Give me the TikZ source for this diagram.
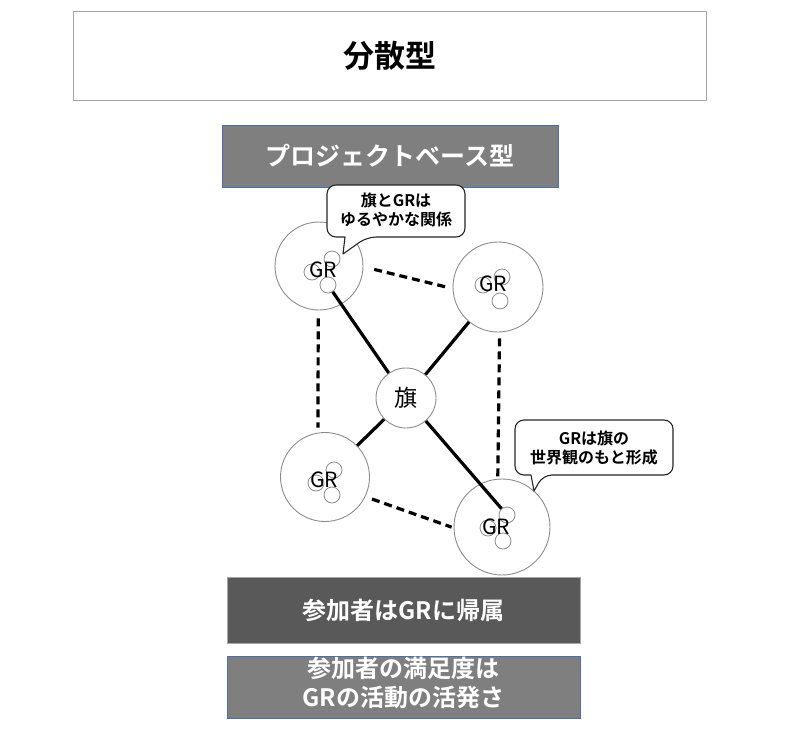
\documentclass[tikz,border=0pt]{standalone}
\usepackage{fontspec}
\setmainfont{Noto Sans CJK JP}[BoldFont={Noto Sans CJK JP Bold}]
\definecolor{ringgray}{HTML}{8C8C8C}
\definecolor{midgray}{HTML}{7F7F7F}
\definecolor{darkgray2}{HTML}{595959}
\definecolor{edgeblue}{HTML}{4A6FB0}
\definecolor{lightedge}{HTML}{A6A6A6}
\begin{document}
\begin{tikzpicture}[x=1pt,y=-1pt,
  bigc/.style={circle, draw=ringgray, line width=0.9pt, fill=white, inner sep=0pt},
  smallc/.style={circle, draw=ringgray, line width=0.8pt, fill=white, inner sep=0pt, minimum size=16pt},
  grtext/.style={font=\fontsize{21}{24}\selectfont, inner sep=0pt},
  dline/.style={line width=3.2pt, dash pattern=on 8pt off 5pt},
  sline/.style={line width=3.2pt},
  callout/.style={draw=black!85, line width=1.1pt, fill=white, line join=round},
  ctext/.style={font=\fontsize{16}{18.5}\selectfont\bfseries, align=center, inner sep=0pt},
]
\useasboundingbox (0,0) rectangle (800,731);

% title
\node[draw=lightedge, line width=0.8pt, minimum width=633pt, minimum height=89pt,
      font=\fontsize{31}{36}\selectfont\bfseries] (title) at (389.5,55.5) {分散型};

% project banner
\node[fill=midgray, draw=edgeblue, line width=0.8pt, minimum width=336pt, minimum height=62pt,
      text=white, font=\fontsize{25}{30}\selectfont\bfseries] (proj) at (390,156) {プロジェクトベース型};

% big circles
\node[bigc, minimum size=88pt] (c1) at (319,266) {};
\node[bigc, minimum size=90pt] (c2) at (498,287) {};
\node[bigc, minimum size=89pt] (c3) at (325,477) {};
\node[bigc, minimum size=96pt] (c4) at (502,527) {};
\node[bigc, minimum size=60pt, font=\fontsize{23}{26}\selectfont] (flag) at (406,398) {旗};

% dashed links between groups
\draw[dline, shorten <=11pt, shorten >=6pt] (c1.-1) -- (c2.182);
\draw[dline, shorten <=8pt, shorten >=5pt] (c1.-91) -- (c3.99);
\draw[dline, shorten <=6pt, shorten >=2pt] (c2.-88) -- (c4.95);
\draw[dline, shorten <=7pt, shorten >=2pt] (c3.-26) -- (c4.181);

% small circles
\node[smallc] (s1u) at (332,259) {};
\node[smallc] (s1l) at (312,272) {};
\node[smallc] (s1b) at (328,285) {};
\node[smallc] (s2u) at (502,277) {};
\node[smallc] (s2l) at (483,285) {};
\node[smallc] (s2b) at (500,301) {};
\node[smallc] (s3u) at (334,470) {};
\node[smallc] (s3l) at (316,483) {};
\node[smallc] (s3b) at (332,495) {};
\node[smallc] (s4u) at (507,515) {};
\node[smallc] (s4l) at (488,528) {};
\node[smallc] (s4b) at (503,541) {};

% solid links to the flag
\draw[sline] (s1b) -- (flag);
\draw[sline] (flag) -- (c2);
\draw[sline] (flag) -- (c3);
\draw[sline] (flag) -- (s4u);

% GR labels
\node[grtext] (g1) at (323,270) {GR};
\node[grtext] (g2) at (493,284) {GR};
\node[grtext] (g3) at (324,480) {GR};
\node[grtext] (g4) at (496,527) {GR};

% callout 1
\draw[callout] (343,254) -- (345,237) [rounded corners=9pt] -- (327,237) -- (327,185) -- (465,185) -- (465,237) -- (367,237) [sharp corners] -- cycle;
\node[ctext] (k1) at (396,210) {旗とGRは\\ゆるやかな関係};

% callout 2
\draw[callout] (534,491) -- (531,475) [rounded corners=9pt] -- (515,475) -- (515,420) -- (673,420) -- (673,475) -- (543,475) [sharp corners] -- cycle;
\node[ctext] (k2) at (594,448) {GRは旗の\\世界観のもと形成};

% bottom banners
\node[fill=darkgray2, draw=lightedge, line width=0.8pt, minimum width=353pt, minimum height=66pt,
      text=white, font=\fontsize{24}{28}\selectfont\bfseries] (b3) at (403.5,610) {参加者はGRに帰属};
\node[fill=midgray, draw=edgeblue, line width=0.8pt, minimum width=353pt, minimum height=62pt] (b4) at (403.5,687) {};
\node[text=white, font=\fontsize{24}{29}\selectfont\bfseries, align=center, inner sep=0pt] (b4t) at (403.5,683) {参加者の満足度は\\GRの活動の活発さ};
\end{tikzpicture}
\end{document}
